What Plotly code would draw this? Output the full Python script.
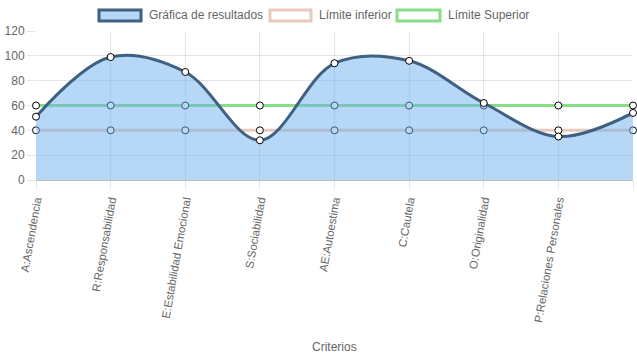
import plotly.graph_objects as go

categories = ["A:Ascendencia", "R:Responsabilidad", "E:Estabilidad Emocional",
              "S:Sociabilidad", "AE:Autoestima", "C:Cautela", "O:Originalidad",
              "P:Relaciones Personales", "V:Vigor"]
resultados = [51, 99, 87, 32, 94, 96, 62, 35, 54]
limite_inferior = [40, 40, 40, 40, 40, 40, 40, 40, 40]
limite_superior = [60, 60, 60, 60, 60, 60, 60, 60, 60]
y_ticks = [0, 20, 40, 60, 80, 100, 120]

x = list(range(len(categories)))
FONT = "Liberation Sans, Arial, sans-serif"
GRAY = "#666666"

fig = go.Figure()

# limit lines first (drawn under the result fill)
fig.add_trace(go.Scatter(
    x=x, y=limite_superior, mode="lines+markers", name="Límite Superior",
    line=dict(color="rgb(135,222,135)", width=3),
    marker=dict(size=7, color="white", line=dict(color="black", width=1)),
    cliponaxis=False, showlegend=False))
fig.add_trace(go.Scatter(
    x=x, y=limite_inferior, mode="lines+markers", name="Límite inferior",
    line=dict(color="rgb(232,202,188)", width=3),
    marker=dict(size=7, color="white", line=dict(color="black", width=1)),
    cliponaxis=False, showlegend=False))
# result fill (semi-transparent, on top of the limit lines)
fig.add_trace(go.Scatter(
    x=x, y=resultados, mode="lines", fill="tozeroy",
    fillcolor="rgba(110,175,235,0.5)",
    line=dict(color="rgb(62,96,130)", width=3, shape="spline", smoothing=1.0),
    cliponaxis=False, showlegend=False, hoverinfo="skip"))
fig.add_trace(go.Scatter(
    x=x, y=resultados, mode="markers", name="Gráfica de resultados",
    marker=dict(size=7, color="white", line=dict(color="black", width=1)),
    cliponaxis=False, showlegend=False))

W, H = 637, 359
L, R, T, B = 36, 4, 31, 179
pw, ph = W - L - R, H - T - B

def px(xp):
    return (xp - L) / pw

def py(yp):
    return (H - B - yp) / ph

shapes = []
annotations = []
legend_items = [
    (99, 141, "rgba(110,175,235,0.5)", "rgb(62,96,130)", 147, "Gráfica de resultados"),
    (270, 311, "rgba(255,255,255,0)", "rgb(232,202,188)", 317, "Límite inferior"),
    (397, 440, "rgba(255,255,255,0)", "rgb(135,222,135)", 446, "Límite Superior"),
]
for x0, x1, fc, lc, tx, label in legend_items:
    shapes.append(dict(type="rect", xref="paper", yref="paper",
                       x0=px(x0), x1=px(x1), y0=py(21), y1=py(10),
                       fillcolor=fc, line=dict(color=lc, width=3)))
    annotations.append(dict(text=label, xref="paper", yref="paper",
                            x=px(tx), y=py(15.5), xanchor="left", yanchor="middle",
                            showarrow=False, font=dict(family=FONT, size=12, color=GRAY)))

annotations.append(dict(text="Criterios", xref="paper", yref="paper",
                        x=px(334), y=py(347), xanchor="center", yanchor="middle",
                        showarrow=False, font=dict(family=FONT, size=12, color=GRAY)))

fig.update_layout(
    width=W, height=H,
    margin=dict(l=L, r=R, t=T, b=B, autoexpand=False),
    paper_bgcolor="white", plot_bgcolor="white",
    font=dict(family=FONT, size=12, color=GRAY),
    shapes=shapes, annotations=annotations,
    showlegend=False,
)
fig.update_xaxes(
    range=[0, len(categories) - 1], tickmode="array", tickvals=x, ticktext=categories,
    tickangle=-80, showgrid=True, gridcolor="rgba(0,0,0,0.1)", gridwidth=1,
    ticks="outside", ticklen=8, tickcolor="rgba(0,0,0,0.1)",
    showline=False, zeroline=False, automargin=False,
    tickfont=dict(family=FONT, size=11.4, color=GRAY),
)
fig.update_yaxes(
    range=[0, 120], tickmode="array", tickvals=y_ticks,
    showgrid=True, gridcolor="rgba(0,0,0,0.1)", gridwidth=1,
    ticks="outside", ticklen=8, tickcolor="rgba(0,0,0,0.1)",
    zeroline=True, zerolinecolor="rgba(0,0,0,0.25)", zerolinewidth=1,
    showline=False, automargin=False,
    tickfont=dict(family=FONT, size=12, color=GRAY),
)

fig.write_html("out.html", config={"displayModeBar": False},
               post_script="document.body.style.margin='0';document.body.style.overflow='hidden';")
